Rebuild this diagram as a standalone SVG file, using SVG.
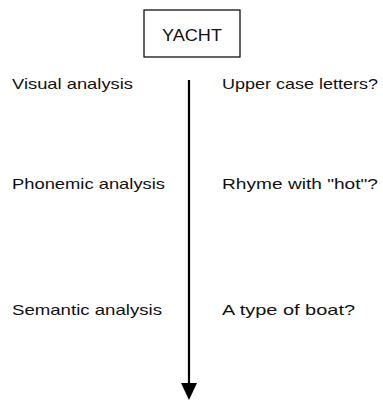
<svg xmlns="http://www.w3.org/2000/svg" width="383" height="401" viewBox="0 0 383 401">
<style>
text{font-family:"Liberation Sans",Arial,sans-serif;font-size:15px;fill:#111}
.box{fill:#fff;stroke:#111;stroke-width:1.3}
</style>
<rect width="383" height="401" fill="#fff"/>
<g id="yacht">
<rect class="box" x="144" y="10" width="96" height="47"/>
<text x="162" y="41" textLength="60" lengthAdjust="spacingAndGlyphs" style="font-size:17px">YACHT</text>
</g>
<g id="connectors">
<line x1="189" y1="80" x2="189" y2="384" stroke="#000" stroke-width="2.2"/>
<path d="M181,383 L197,383 L189,400 Z" fill="#000"/>
</g>
<g id="visual">
<text x="12" y="89" textLength="121" lengthAdjust="spacingAndGlyphs">Visual analysis</text>
<text x="222" y="89" textLength="156" lengthAdjust="spacingAndGlyphs">Upper case letters?</text>
</g>
<g id="phonemic">
<text x="12" y="189" textLength="153" lengthAdjust="spacingAndGlyphs">Phonemic analysis</text>
<text x="222" y="189" textLength="156" lengthAdjust="spacingAndGlyphs">Rhyme with "hot"?</text>
</g>
<g id="semantic">
<text x="12" y="315" textLength="150" lengthAdjust="spacingAndGlyphs">Semantic analysis</text>
<text x="222" y="315" textLength="133" lengthAdjust="spacingAndGlyphs">A type of boat?</text>
</g>
</svg>
